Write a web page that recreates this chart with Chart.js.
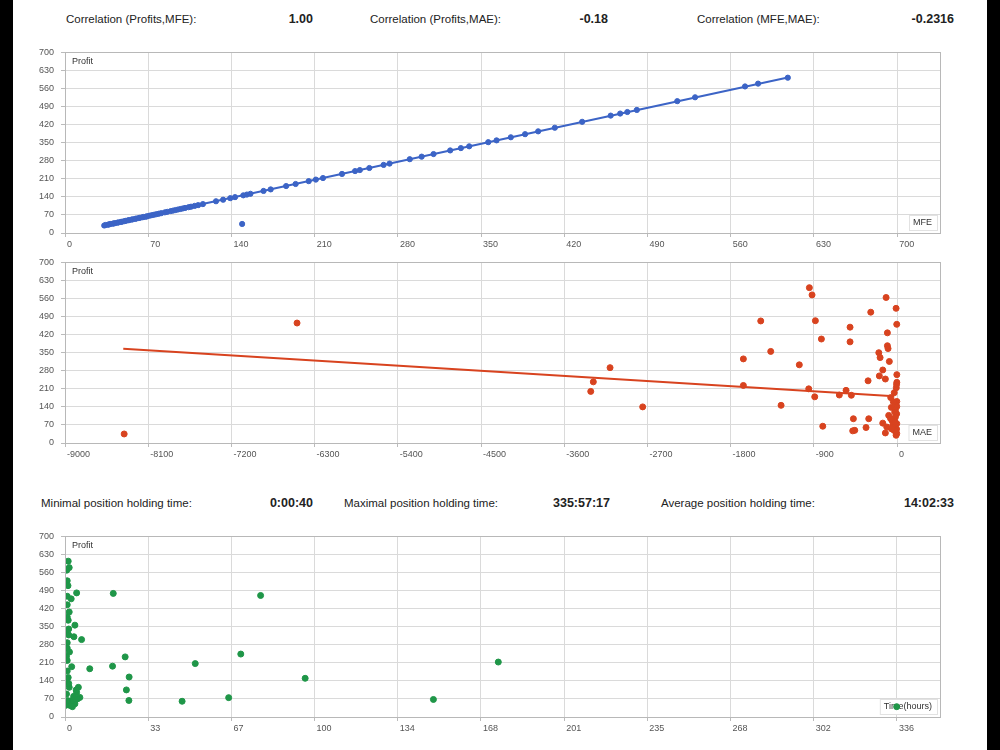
<!DOCTYPE html>
<html lang="en">
<head>
    <meta charset="UTF-8">
    <title>Profit / MFE / MAE / Holding time</title>
    <script src="https://cdn.jsdelivr.net/npm/chart.js"></script>
    <style>
        body {
            margin: 0;
            width: 1000px;
            height: 750px;
            background: #fff;
            position: relative;
            overflow: hidden;
            font-family: 'Liberation Sans', Arial, sans-serif;
            color: #222;
        }
        .edge { position: absolute; top: 0; width: 13px; height: 750px; background: #000; }
        .stat { position: absolute; font-size: 11.5px; line-height: 14px; white-space: nowrap; }
        .val { font-weight: bold; font-size: 12.5px; }
        .box { position: absolute; left: 13px; width: 947px; height: 215px; }
    </style>
</head>
<body>
    <div class="edge" style="left:0"></div>
    <div class="edge" style="right:0"></div>

    <div class="stat" style="left:66px; top:12px">Correlation (Profits,MFE):</div>
    <div class="stat val" style="right:687px; top:12px">1.00</div>
    <div class="stat" style="left:370px; top:12px">Correlation (Profits,MAE):</div>
    <div class="stat val" style="right:392px; top:12px">-0.18</div>
    <div class="stat" style="left:697px; top:12px">Correlation (MFE,MAE):</div>
    <div class="stat val" style="right:46px; top:12px">-0.2316</div>

    <div class="box" style="top:40px"><canvas id="mfeChart"></canvas></div>
    <div class="box" style="top:250px"><canvas id="maeChart"></canvas></div>

    <div class="stat" style="left:41px; top:496px">Minimal position holding time:</div>
    <div class="stat val" style="right:687px; top:496px">0:00:40</div>
    <div class="stat" style="left:344px; top:496px">Maximal position holding time:</div>
    <div class="stat val" style="right:390px; top:496px">335:57:17</div>
    <div class="stat" style="left:661px; top:496px">Average position holding time:</div>
    <div class="stat val" style="right:46px; top:496px">14:02:33</div>

    <div class="box" style="top:524px"><canvas id="timeChart"></canvas></div>

    <script>
        // profit axis (shared by all three charts)
        const profitTicks = [0, 70, 140, 210, 280, 350, 420, 490, 560, 630, 700];

        // chart 1: profit vs MFE
        const mfeX = [33, 34, 36, 37, 38, 40, 41, 42, 44, 45, 47, 48, 50, 51, 53, 54, 56, 57, 59, 60, 62, 63, 65, 66, 68, 69, 71, 73, 75, 77, 79, 81, 84, 86, 89, 91, 93, 95, 97, 99, 101, 104, 106, 109, 112, 116,
            127, 133, 139, 143, 150, 153, 156, 167, 173, 186, 194, 205, 211, 217, 233, 244, 248, 256, 268, 273, 290, 300, 310, 324, 333, 340, 356, 363, 375, 387, 398, 412, 435, 459, 467, 473, 481, 515, 530, 572, 583, 608, 149];
        const mfeProfit = [29, 31, 32, 33, 35, 36, 37, 38, 40, 41, 43, 44, 46, 47, 49, 50, 52, 53, 55, 56, 58, 59, 61, 62, 63, 65, 67, 69, 71, 73, 75, 77, 80, 82, 85, 87, 89, 91, 93, 95, 97, 100, 102, 105, 108, 112,
            123, 129, 135, 139, 146, 149, 152, 163, 169, 182, 190, 201, 207, 213, 229, 240, 244, 252, 264, 269, 286, 296, 306, 320, 329, 336, 352, 359, 371, 383, 394, 408, 431, 455, 463, 469, 477, 511, 526, 568, 579, 602, 35];
        const mfeTrendX = [33, 608];
        const mfeTrendY = [30, 603];
        const mfeTicks = [0, 70, 140, 210, 280, 350, 420, 490, 560, 630, 700];

        // chart 2: profit vs MAE
        const maeX = [-8360, -6490, -3104, -3285, -3313, -2751,
            -948, -919, -118, -10, -284, -1474, -883, -3, -508, -104, -818, -508, -104, -97, -1366, -197, -183, -1662, -83, -1057,
            -154, -2, -191, -126, -313, -2, -1662, -5, -8, -955, -551, -890, -624, -494, -68, -1254, -2, -10, -3, -61, -18, -4,
            -90, -18, -54, -3, -154, -111, -5, -32, -3, -126, -10, -472, -306, -803, -457, -479, -335,
            -40, -25, -70, -45, -15, -60, -30, -20];
        const maeProfit = [35, 465, 292, 237, 200, 140,
            602, 574, 564, 522, 507, 473, 474, 460, 449, 427, 403, 392, 377, 366, 355, 350, 331, 326, 316, 303,
            283, 265, 260, 248, 241, 235, 223, 227, 214, 210, 204, 179, 186, 185, 176, 146, 161, 148, 141, 138, 128, 113,
            107, 100, 87, 75, 77, 62, 54, 49, 37, 39, 30, 94, 94, 65, 49, 47, 60,
            160, 120, 95, 70, 45, 55, 195, 80];
        const maeTrendX = [-8370, -30];
        const maeTrendY = [365, 181];
        const maeTicks = [-9000, -8100, -7200, -6300, -5400, -4500, -3600, -2700, -1800, -900, 0];

        // chart 3: profit vs holding time (hours)
        const timeX = [1.3, 1.7, 0.7, 0.9, 1.2, 0.9, 2.5, 4.7, 19.5, 79, 0.9, 1.7, 0.9, 1.3, 4, 1.5, 0.5, 1.5, 3.6, 6.7,
            0.9, 0.9, 1.8, 0.6, 0.9, 2.7, 10, 19.2, 24.3, 52.6, 71, 25.9, 97, 24.8, 25.8, 47.3, 66.1, 148.8, 175, 335.9,
            5.4, 4.7, 6, 4, 2, 0.6, 1.3, 0.9, 1.7, 2.7, 1, 0.2, 3.5, 5, 1.5, 0.5, 3, 4.5];
        const timeProfit = [604, 579, 569, 528, 509, 468, 458, 481, 479, 471, 435, 407, 388, 375, 356, 341, 331, 318, 311, 300,
            288, 267, 252, 235, 219, 195, 187, 197, 233, 207, 244, 155, 150, 105, 64, 61, 75, 68, 213, 40,
            115, 95, 76, 51, 45, 89, 153, 178, 115, 64, 64, 45, 80, 70, 130, 145, 40, 105];
        const timeTicks = [0, 33.6, 67.2, 100.8, 134.4, 168, 201.6, 235.2, 268.8, 302.4, 336];
        const timeTickLabels = ['0', '33', '67', '100', '134', '168', '201', '235', '268', '302', '336'];

        Chart.defaults.font.family = "'Liberation Sans', Arial, sans-serif";
        Chart.defaults.font.size = 9;
        Chart.defaults.color = '#555';

        const plotFrame = {
            id: 'plotFrame',
            beforeDatasetsDraw(chart, args, opts) {
                const { ctx, chartArea: a } = chart;
                ctx.save();
                ctx.font = "9px 'Liberation Sans', Arial, sans-serif";
                ctx.textBaseline = 'middle';
                ctx.textAlign = 'left';
                ctx.fillStyle = '#333';
                ctx.fillText(opts.yTitle, a.left + 7, a.top + 9);
                const w = ctx.measureText(opts.xTitle).width;
                const bx = a.right - w - 12, by = a.bottom - 18;
                ctx.fillStyle = '#fff';
                ctx.fillRect(bx, by, w + 9, 15);
                ctx.strokeStyle = '#e2e2e2';
                ctx.strokeRect(bx + 0.5, by + 0.5, w + 9, 15);
                ctx.fillStyle = '#333';
                ctx.fillText(opts.xTitle, bx + 4, by + 8);
                ctx.restore();
            },
            afterDraw(chart) {
                const { ctx, chartArea: a } = chart;
                ctx.save();
                ctx.strokeStyle = '#b8b8b8';
                ctx.lineWidth = 1;
                ctx.strokeRect(Math.round(a.left) + 0.5, Math.round(a.top) + 0.5, Math.round(a.width), Math.round(a.height));
                ctx.restore();
            }
        };

        function makeChart(id, pts, trend, color, xMin, xMax, xTicks, xLabels, xTitle, radius) {
            const datasets = [{
                data: pts,
                backgroundColor: color,
                borderColor: color,
                pointRadius: radius,
                pointHoverRadius: radius
            }];
            if (trend) {
                datasets.push({
                    data: trend,
                    showLine: true,
                    borderColor: color,
                    borderWidth: 2,
                    pointRadius: 0
                });
            }
            return new Chart(document.getElementById(id), {
                type: 'scatter',
                data: { datasets },
                plugins: [plotFrame],
                options: {
                    responsive: true,
                    maintainAspectRatio: false,
                    animation: false,
                    layout: { padding: { top: 9, right: 20, left: 0, bottom: 0 } },
                    plugins: {
                        legend: { display: false },
                        tooltip: { enabled: false },
                        plotFrame: { yTitle: 'Profit', xTitle: xTitle }
                    },
                    scales: {
                        x: {
                            type: 'linear',
                            min: xMin,
                            max: xMax,
                            afterBuildTicks: s => { s.ticks = xTicks.map(v => ({ value: v })); },
                            afterFit: s => { s.height = 22; },
                            grid: { color: '#dadada', tickLength: 4, tickColor: '#bbb' },
                            border: { color: '#b8b8b8' },
                            ticks: {
                                align: 'start',
                                labelOffset: 2,
                                padding: 2,
                                maxRotation: 0,
                                autoSkip: false,
                                callback: (v, i) => xLabels ? xLabels[i] : v
                            }
                        },
                        y: {
                            min: 0,
                            max: 700,
                            afterBuildTicks: s => { s.ticks = profitTicks.map(v => ({ value: v })); },
                            afterFit: s => { s.width = 52; },
                            grid: { color: '#dadada', tickLength: 4, tickColor: '#bbb' },
                            border: { color: '#b8b8b8' },
                            ticks: { padding: 7, autoSkip: false }
                        }
                    }
                }
            });
        }

        const toPts = (xs, ys) => xs.map((x, i) => ({ x: x, y: ys[i] }));

        makeChart('mfeChart', toPts(mfeX, mfeProfit), toPts(mfeTrendX, mfeTrendY), '#3c64c6',
            0, 736, mfeTicks, null, 'MFE', 2.6);
        makeChart('maeChart', toPts(maeX, maeProfit), toPts(maeTrendX, maeTrendY), '#d8431f',
            -9000, 465, maeTicks, null, 'MAE', 3);
        makeChart('timeChart', toPts(timeX, timeProfit), null, '#1f9648',
            0, 353.4, timeTicks, timeTickLabels, 'Time(hours)', 3);
    </script>
</body>
</html>
